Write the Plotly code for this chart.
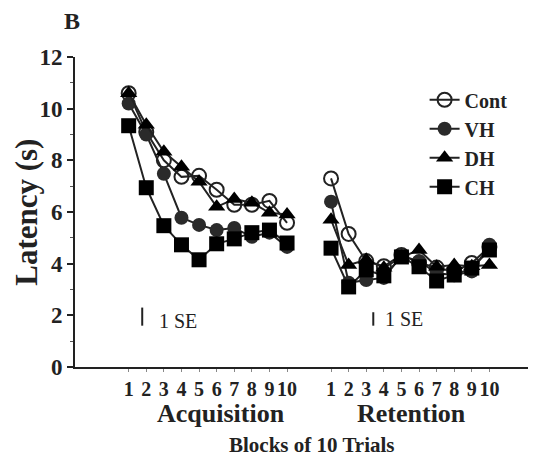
import plotly.graph_objects as go

blocks = list(range(1, 11))
acq_x = [1, 2, 3, 4, 5, 6, 7, 8, 9, 10]
ret_x = [12.5, 13.5, 14.5, 15.5, 16.5, 17.5, 18.5, 19.5, 20.5, 21.5]
tick_labels = [str(b) for b in blocks]

cont_acq = [10.6, 9.1, 8.0, 7.36, 7.4, 6.86, 6.28, 6.28, 6.43, 5.58]
cont_ret = [7.3, 5.15, 4.1, 3.9, 4.34, 4.03, 3.85, 3.68, 4.03, 4.65]
vh_acq = [10.2, 9.0, 7.48, 5.78, 5.5, 5.3, 5.38, 5.04, 5.2, 4.65]
vh_ret = [6.4, 3.26, 3.37, 3.45, 4.3, 4.1, 3.64, 3.55, 3.7, 4.73]
dh_acq = [10.6, 9.38, 8.33, 7.75, 7.17, 6.2, 6.5, 6.36, 5.97, 5.9]
dh_ret = [5.7, 3.95, 4.15, 3.84, 4.25, 4.53, 3.88, 3.95, 3.9, 3.95]
ch_acq = [9.34, 6.94, 5.47, 4.73, 4.15, 4.77, 4.96, 5.2, 5.3, 4.8]
ch_ret = [4.6, 3.1, 3.76, 3.53, 4.26, 3.88, 3.33, 3.56, 3.83, 4.53]

se_base = 1.6
se_acq = 0.7
se_ret = 0.52

FONT = "Liberation Serif"
LINE = "#222222"

series = [
    ("Cont", cont_acq, cont_ret, dict(symbol="circle-open", size=14, color=LINE, line=dict(width=2, color=LINE))),
    ("VH", vh_acq, vh_ret, dict(symbol="circle", size=14, color="#2a2a2a")),
    ("DH", dh_acq, dh_ret, dict(symbol="triangle-up", size=15, color="#000000")),
    ("CH", ch_acq, ch_ret, dict(symbol="square", size=15, color="#000000")),
]

fig = go.Figure()
for name, a, r, mk in series:
    fig.add_trace(go.Scatter(
        x=acq_x, y=a, mode="lines+markers", name=name, legendgroup=name,
        line=dict(color=LINE, width=2), marker=mk))
    fig.add_trace(go.Scatter(
        x=ret_x, y=r, mode="lines+markers", name=name, legendgroup=name, showlegend=False,
        line=dict(color=LINE, width=2), marker=mk))

# 1 SE bars
fig.add_shape(type="line", x0=1.77, x1=1.77, y0=se_base, y1=se_base + se_acq, xref="x", yref="y",
              line=dict(color="#222", width=2))
fig.add_shape(type="line", x0=14.9, x1=14.9, y0=se_base, y1=se_base + se_ret, xref="x", yref="y",
              line=dict(color="#222", width=2))
fig.add_annotation(x=2.6, y=1.8, xref="x", yref="y", text="1 SE", showarrow=False, xanchor="left",
                   font=dict(family=FONT, size=20, color="#222"))
fig.add_annotation(x=15.45, y=1.85, xref="x", yref="y", text="1 SE", showarrow=False, xanchor="left",
                   font=dict(family=FONT, size=20, color="#222"))

fig.add_annotation(x=6.26, y=-0.15, xref="x", yref="paper", text="<b>Acquisition</b>", showarrow=False,
                   yanchor="middle", font=dict(family=FONT, size=26, color="#222"))
fig.add_annotation(x=17.05, y=-0.15, xref="x", yref="paper", text="<b>Retention</b>", showarrow=False,
                   yanchor="middle", font=dict(family=FONT, size=26, color="#222"))
fig.add_annotation(x=11.43, y=-0.252, xref="x", yref="paper", text="<b>Blocks of 10 Trials</b>", showarrow=False,
                   yanchor="middle", font=dict(family=FONT, size=21, color="#222"))
fig.add_annotation(x=-0.007, y=1.116, xref="paper", yref="paper", text="<b>B</b>", showarrow=False,
                   xanchor="center", yanchor="middle",
                   font=dict(family=FONT, size=24, color="#222"))
fig.add_annotation(x=-0.107, y=0.5, xref="paper", yref="paper", text="<b>Latency (s)</b>", showarrow=False,
                   xanchor="center", yanchor="middle", textangle=-90, borderpad=0,
                   font=dict(family=FONT, size=31, color="#222"))

fig.update_layout(
    width=536, height=459,
    margin=dict(l=67, r=9, t=49, b=100),
    paper_bgcolor="white", plot_bgcolor="white",
    font=dict(family=FONT, color="#222"),
    showlegend=True,
    legend=dict(x=0.76, y=0.925, xanchor="left", yanchor="top", bgcolor="rgba(0,0,0,0)",
                font=dict(family=FONT, size=20, color="#222", weight="bold"),
                itemwidth=30, tracegroupgap=0),
    xaxis=dict(range=[-2.05, 24.09], showgrid=False, zeroline=False, showline=True,
               linecolor="#222", linewidth=2, automargin=False,
               tickvals=acq_x + ret_x, ticktext=tick_labels + tick_labels, tickangle=0,
               ticks="outside", ticklen=3, tickwidth=1, tickcolor="#888",
               tickfont=dict(family=FONT, size=20, color="#222", weight="bold")),
    yaxis=dict(range=[0, 12], showgrid=False, zeroline=False, showline=True,
               linecolor="#222", linewidth=2, automargin=False,
               tickvals=[0, 2, 4, 6, 8, 10, 12],
               ticks="outside", ticklen=6, tickwidth=2, tickcolor="#222",
               minor=dict(tickvals=[1, 3, 5, 7, 9, 11], ticks="outside", ticklen=3, tickwidth=1, tickcolor="#555"),
               tickfont=dict(family=FONT, size=23, color="#222", weight="bold")),
)

fig.write_html("out.html")
